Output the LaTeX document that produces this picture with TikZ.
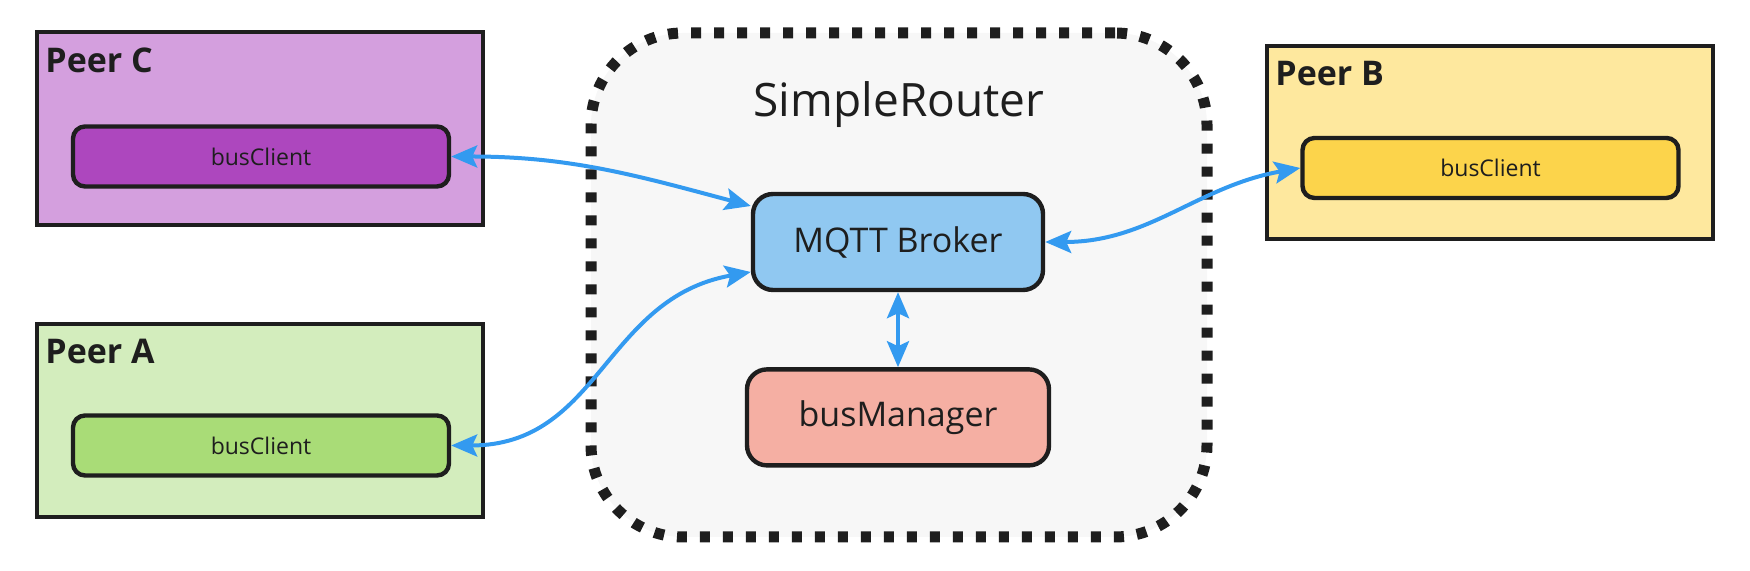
\documentclass[tikz,border=0pt]{standalone}
\usepackage{fontspec}
\setmainfont{Open Sans}
\usetikzlibrary{arrows.meta, positioning}

\definecolor{inkblack}{HTML}{1E1E1E}
\definecolor{linkblue}{HTML}{339AF0}
\definecolor{routerfill}{HTML}{F7F7F7}
\definecolor{brokerfill}{HTML}{90C8F1}
\definecolor{managerfill}{HTML}{F5AFA3}
\definecolor{peercfill}{HTML}{D49FDE}
\definecolor{clientcfill}{HTML}{AD47BE}
\definecolor{peerafill}{HTML}{D3EDBD}
\definecolor{clientafill}{HTML}{A9DC77}
\definecolor{peerbfill}{HTML}{FEE89E}
\definecolor{clientbfill}{HTML}{FCD44B}

\begin{document}
\begin{tikzpicture}[
    x = 0.5pt, y = 0.5pt,
    >= {Stealth[length = 13pt, width = 11pt, inset = 2.5pt]},
    peer/.style = {
      draw = inkblack,
      line width = 2pt,
      rectangle,
      minimum width = 223pt,
      minimum height = 96.5pt,
    },
    peerlabel/.style = {
      anchor = north west,
      inner sep = 0pt,
      text = inkblack,
      font = \fontsize{17}{19}\selectfont\bfseries,
    },
    client/.style = {
      draw = inkblack,
      line width = 2.2pt,
      rounded corners = 6pt,
      minimum width = 188pt,
      minimum height = 30pt,
      text = inkblack,
      font = \fontsize{11.5}{13}\selectfont,
    },
    service/.style = {
      draw = inkblack,
      line width = 2.2pt,
      rounded corners = 10pt,
      minimum height = 48pt,
      text = inkblack,
      font = \fontsize{17}{20}\selectfont,
    },
    link/.style = {draw = linkblue, line width = 2pt, <->},
  ]
  \useasboundingbox (0, 0) rectangle (1750, 571);

  % the router and what runs inside it
  \node [
    draw = inkblack, fill = routerfill,
    line width = 5.5pt, dash pattern = on 5pt off 6.5pt,
    rounded corners = 46pt,
    minimum width = 308pt, minimum height = 252pt
  ] (router) at (899, 286) {};
  \node [text = inkblack, font = \fontsize{23}{27}\selectfont]
    (router label) at (899, 466) {SimpleRouter};
  \node [service, fill = brokerfill, minimum width = 145pt]
    (broker) at (898, 329) {MQTT Broker};
  \node [service, fill = managerfill, minimum width = 151pt,
    below = 37.5pt of broker] (manager) {busManager};

  % the three peers
  \node [peer, fill = peercfill] (peer c) at (260, 442.5) {};
  \node [peerlabel] at ([xshift = 5pt, yshift = -8.5pt] peer c.north west)
    {Peer C};
  \node [client, fill = clientcfill] (client c) at (261, 414.5) {busClient};

  \node [peer, fill = peerafill] (peer a) at (260, 150.5) {};
  \node [peerlabel] at ([xshift = 5pt, yshift = -8.5pt] peer a.north west)
    {Peer A};
  \node [client, fill = clientafill] (client a) at (261, 125.5) {busClient};

  \node [peer, fill = peerbfill] (peer b) at (1490, 428.5) {};
  \node [peerlabel] at ([xshift = 5pt, yshift = -8.5pt] peer b.north west)
    {Peer B};
  \node [client, fill = clientbfill] (client b) at (1490.5, 403) {busClient};

  % connections
  \draw [link] (client c.east) to [out = 0, in = 165]
    ([yshift = 18pt] broker.west);
  \draw [link] (client a.east) to [out = 0, in = 190, looseness = 1.1]
    ([yshift = -15pt] broker.west);
  \draw [link] (broker.east) to [out = 0, in = 190] (client b.west);
  \draw [link] (broker.south) -- (manager.north);
\end{tikzpicture}
\end{document}
